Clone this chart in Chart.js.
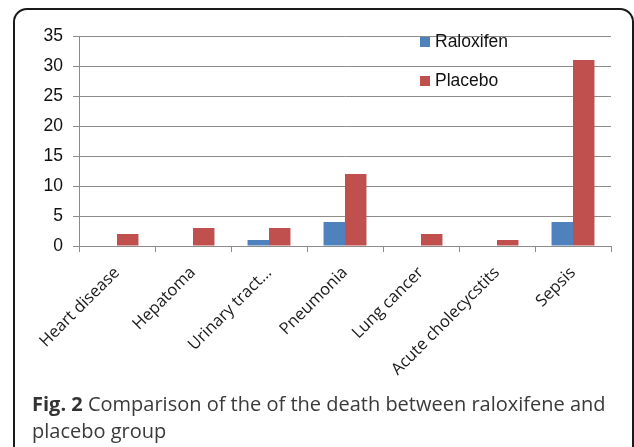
<!DOCTYPE html>
<html>
<head>
<meta charset="utf-8">
<script src="https://cdn.jsdelivr.net/npm/chart.js@4.4.1/dist/chart.umd.min.js"></script>
<style>
  html, body { margin: 0; padding: 0; background: #fff; }
  #wrap { position: relative; width: 634px; height: 447px; overflow: hidden; }
  #frame {
    position: absolute; left: 13px; top: 8px; width: 621px; height: 500px;
    border: 2px solid #1a1a1a; border-radius: 14px; box-sizing: border-box;
  }
  #chart { position: absolute; left: 0; top: 0; }
  .leg { position: absolute; left: 420px; font: 17.5px "Liberation Sans", Arial, sans-serif; color: #111; line-height: 20px; }
  .leg span { display: inline-block; width: 10px; height: 10px; margin-right: 5px; vertical-align: 0px; }
  #caption {
    position: absolute; left: 32px; top: 390px; width: 590px;
    font: 20px "Open Sans", sans-serif; color: #3a3a3a; line-height: 27px;
  }
  #caption b { font-weight: 700; color: #333; }
</style>
</head>
<body>
<div id="wrap">
  <div id="frame"></div>
  <canvas id="chart" width="634" height="447"></canvas>
  <div id="legend"></div>
  <div id="caption"><b>Fig. 2</b> Comparison of the of the death between raloxifene and placebo group</div>
</div>
<script>
// dados
const categories = ['Heart disease', 'Hepatoma', 'Urinary tract…', 'Pneumonia', 'Lung cancer', 'Acute cholecycstits', 'Sepsis'];
const raloxifen = [0, 0, 1, 4, 0, 0, 4];
const placebo = [2, 3, 3, 12, 2, 1, 31];
const seriesNames = ['Raloxifen', 'Placebo'];
const seriesColors = ['#4F81BD', '#C0504D'];
const yTicks = [0, 5, 10, 15, 20, 25, 30, 35];

const gridColor = '#8c8c8c';

// legenda em HTML
const legendTops = [31, 70];
const legend = document.getElementById('legend');
seriesNames.forEach((name, i) => {
    const d = document.createElement('div');
    d.className = 'leg';
    d.style.top = legendTops[i] + 'px';
    d.innerHTML = '<span style="background:' + seriesColors[i] + '"></span>' + name;
    legend.appendChild(d);
});

const ctx = document.getElementById('chart').getContext('2d');
new Chart(ctx, {
    type: 'bar',
    data: {
        labels: categories,
        datasets: [
            { label: seriesNames[0], data: raloxifen, backgroundColor: seriesColors[0] },
            { label: seriesNames[1], data: placebo, backgroundColor: seriesColors[1] }
        ]
    },
    options: {
        responsive: false,
        animation: false,
        layout: { padding: { left: 0, right: 23, top: 36, bottom: 41 } },
        plugins: { legend: { display: false }, tooltip: { enabled: false } },
        datasets: { bar: { categoryPercentage: 0.565, barPercentage: 1 } },
        scales: {
            x: {
                grid: { display: true, drawOnChartArea: false, color: gridColor, tickLength: 6, offset: true },
                border: { color: gridColor },
                ticks: {
                    autoSkip: false, minRotation: 45, maxRotation: 45, padding: 11,
                    color: '#1a1a1a', font: { family: 'Open Sans', size: 16.5 }
                },
                afterFit: s => { s.height = 160; }
            },
            y: {
                min: 0, max: 35,
                afterBuildTicks: s => { s.ticks = yTicks.map(v => ({ value: v })); },
                grid: { color: gridColor, tickLength: 6 },
                border: { color: gridColor },
                ticks: {
                    padding: 10, color: '#111',
                    font: { family: 'Liberation Sans', size: 17.5 }
                },
                afterFit: s => { s.width = 79; }
            }
        }
    }
});
</script>
</body>
</html>
